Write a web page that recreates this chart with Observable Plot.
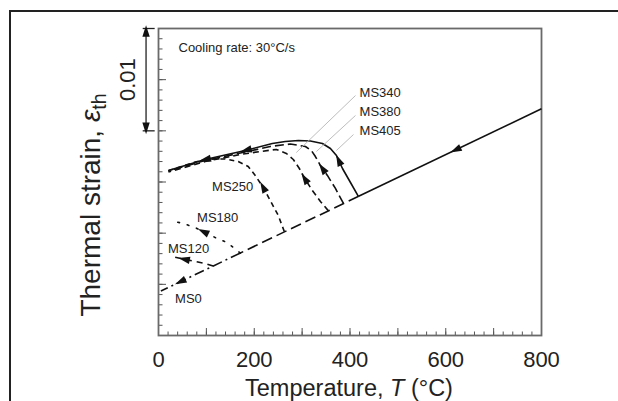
<!DOCTYPE html>
<html><head><meta charset="utf-8">
<script src="https://cdn.jsdelivr.net/npm/d3@7"></script>
<script src="https://cdn.jsdelivr.net/npm/@observablehq/plot@0.6"></script>
<style>
html,body{margin:0;padding:0;background:#fff;}
#wrap{position:relative;width:618px;height:401px;overflow:hidden;}
#border{position:absolute;left:9px;top:10px;width:620px;height:400px;border-top:2px solid #222;border-left:2px solid #222;pointer-events:none;}
</style></head><body><div id="wrap"><div id="chart"></div><div id="border"></div></div>
<script>
// ---- data (temperature in °C, thermal strain in units of 0.001) ----
const xTickLabels = [0, 200, 400, 600, 800];
const lineT = [800, 418], lineS = [22.15, 13.6];           // austenite cooling line (solid part)
const lineLowT = [418, 170], lineLowS = [13.6, 8.04];      // shared dashed part
const ms0T = [170, 5], ms0S = [8.04, 4.34];                // MS0 (dash-dot)
const ms405T = [417.8, 401, 384.3, 371.7, 359.1, 342.4, 317.2, 292.1, 264.9, 237.7, 181.1, 97.4, 20.7];
const ms405S = [13.58, 14.95, 16.32, 17.59, 18.27, 18.76, 19.01, 19.06, 18.96, 18.76, 18.08, 17.20, 16.12];
const ms380T = [386.3, 369.6, 352.8, 338.2, 327.7, 319.3, 306.8, 275.3, 233.4, 181.1, 97.4, 20.7];
const ms380S = [12.90, 14.37, 15.64, 16.61, 17.49, 18.08, 18.47, 18.71, 18.47, 17.93, 17.10, 16.08];
const ms340T = [355, 338.2, 321.4, 306.8, 294.2, 281.6, 267, 246, 212.5, 170.6, 97.4, 20.7];
const ms340S = [12.18, 13.10, 14.17, 15.24, 16.32, 17.20, 17.79, 18.18, 17.98, 17.69, 17.00, 15.98];
const ms250T = [262.8, 250.2, 233.4, 218.8, 202.1, 187.4, 166.5, 139.3, 112, 76.4, 20.7];
const ms250S = [10.16, 11.73, 13.19, 14.46, 15.64, 16.52, 17.0, 17.25, 17.25, 16.96, 16.1];
const ms180T = [170.7, 143.4, 118.3, 97.4, 76.4, 51.3, 28.3];
const ms180S = [8.05, 9.09, 9.58, 10.07, 10.55, 10.95, 11.19];
const ms120T = [114.1, 97.4, 76.4, 55.5, 28.3];
const ms120S = [6.79, 7.04, 7.23, 7.43, 7.72];

const labelNames = ["MS340", "MS380", "MS405", "MS250", "MS180", "MS120", "MS0"];
const labelT = [420, 420, 420, 112, 80.6, 19.9, 34.6];
const labelS = [23.75, 21.89, 20.03, 14.56, 11.53, 8.50, 3.62];
const leaderT1 = [411.5, 411.5, 407.3], leaderS1 = [23.45, 21.50, 19.64];
const leaderT2 = [287.9, 329.8, 371.7], leaderS2 = [17.88, 17.98, 18.08];

const arrowSeries = ["line", "MS405", "MS405", "MS405", "MS380", "MS340", "MS250", "MS180", "MS120", "MS0"];
const arrowAt = [0.46, 2.5, 9.9, 10.95, 2.55, 2.95, 2.9, 3.0, 2.9, 0.73];

const scaleBarT = -26, scaleBarS = [20, 30], scaleBarLabel = "0.01";
const note = "Cooling rate: 30°C/s";

// ---- layout / styles ----
const W = 618, H = 401, mL = 158, mR = 77, mT = 28, mB = 66;
const kx = (W - mL - mR) / 800, ky = (H - mT - mB) / 0.03;
const series = {
  line: [lineT, lineS], lineLow: [lineLowT, lineLowS], MS0: [ms0T, ms0S],
  MS405: [ms405T, ms405S], MS380: [ms380T, ms380S], MS340: [ms340T, ms340S],
  MS250: [ms250T, ms250S], MS180: [ms180T, ms180S], MS120: [ms120T, ms120S]
};
const dash = {
  line: null, MS405: null, lineLow: "11,5", MS0: "10,4,2,4", MS380: "9,4",
  MS340: "6,4", MS250: "5,4", MS180: "1.8,8", MS120: "6,5"
};
const rows = name => series[name][0].map((t, i) => ({T: t, S: series[name][1][i] / 1000}));

const arrows = arrowSeries.map((name, j) => {
  const [T, S] = series[name];
  const f = arrowAt[j], i = Math.min(Math.floor(f), T.length - 2), u = f - i;
  const dT = T[i + 1] - T[i], dS = S[i + 1] - S[i];
  return {T: T[i] + dT * u, S: (S[i] + dS * u) / 1000,
          angle: Math.atan2(dT * kx, dS / 1000 * ky) * 180 / Math.PI};
});
const sb = [
  {T: scaleBarT, S: (scaleBarS[1] - 0.45) / 1000, angle: 0},
  {T: scaleBarT, S: (scaleBarS[0] + 0.45) / 1000, angle: 180}
];
const head = {draw(ctx, size) {
  const r = Math.sqrt(size);
  ctx.moveTo(0, -r * 1.4); ctx.lineTo(r * 0.65, r * 0.65); ctx.lineTo(-r * 0.65, r * 0.65); ctx.closePath();
}};

const xMinor = d3.range(0, 801, 20), xMajor = d3.range(0, 801, 100);
const yMinor = d3.range(0, 0.03001, 0.001), yMajor = d3.range(0, 0.03001, 0.005);
const pw = W - mL - mR, ph = H - mT - mB;
const lineMarks = Object.keys(dash).map(name => Plot.line(rows(name), {
  x: "T", y: "S", stroke: "#111", strokeWidth: 1.6,
  strokeDasharray: dash[name] || undefined, strokeLinecap: name === "MS180" ? "round" : "butt"
}));
const font = "Liberation Sans, Arial, sans-serif";

const plot = Plot.plot({
  width: W, height: H, marginLeft: mL, marginRight: mR, marginTop: mT, marginBottom: mB,
  x: {domain: [0, 800], axis: null},
  y: {domain: [0, 0.03], axis: null},
  style: {fontFamily: font, color: "#222", background: "white", overflow: "visible"},
  marks: [
    Plot.tickX(xMinor, {x: d => d, insetTop: ph - 3.5, stroke: "#555", strokeWidth: 1}),
    Plot.tickX(xMajor, {x: d => d, insetTop: ph - 7, stroke: "#555", strokeWidth: 1}),
    Plot.tickY(yMinor, {y: d => d, insetRight: pw - 4.5, stroke: "#555", strokeWidth: 1}),
    Plot.tickY(yMajor, {y: d => d, insetRight: pw - 8, stroke: "#555", strokeWidth: 1}),
    Plot.frame({stroke: "#6a6a6a", strokeWidth: 1.8}),
    Plot.axisX(xTickLabels, {tickSize: 0, tickPadding: 16, fontSize: 22, label: null, fill: "#222"}),
    ...lineMarks,
    Plot.dot(arrows, {x: "T", y: "S", symbol: head, r: 3.2, fill: "#111", stroke: "none", rotate: "angle"}),
    Plot.link(labelNames.slice(0, 3), {
      x1: (d, i) => leaderT1[i], y1: (d, i) => leaderS1[i] / 1000,
      x2: (d, i) => leaderT2[i], y2: (d, i) => leaderS2[i] / 1000,
      stroke: "#b5b5b5", strokeWidth: 0.9
    }),
    Plot.text(labelNames, {x: (d, i) => labelT[i], y: (d, i) => labelS[i] / 1000, text: d => d,
      textAnchor: "start", lineAnchor: "middle", fontSize: 13, fill: "#222"}),
    Plot.text([note], {frameAnchor: "top-left", dx: 20, dy: 19, text: d => d, textAnchor: "start",
      lineAnchor: "middle", fontSize: 13, fill: "#222"}),
    // scale bar
    Plot.link([scaleBarLabel], {x1: scaleBarT, x2: scaleBarT, y1: scaleBarS[0] / 1000, y2: scaleBarS[1] / 1000,
      stroke: "#222", strokeWidth: 1.3}),
    Plot.link(scaleBarS, {x1: scaleBarT - 7, x2: scaleBarT + 18, y1: d => d / 1000, y2: d => d / 1000,
      stroke: "#222", strokeWidth: 1.3}),
    Plot.dot(sb, {x: "T", y: "S", symbol: head, r: 3.2, fill: "#111", stroke: "none", rotate: "angle"}),
    Plot.text([scaleBarLabel], {x: scaleBarT - 37, y: (scaleBarS[0] + scaleBarS[1]) / 2000, text: d => d,
      rotate: -90, fontSize: 22, fill: "#222", lineAnchor: "middle"})
  ]
});
document.getElementById("chart").appendChild(plot);

// axis titles with italic / subscript parts
const svg = d3.select(plot);
const xl = svg.append("text").attr("x", 349).attr("y", 396).attr("text-anchor", "middle")
  .attr("font-size", 23.5).attr("fill", "#222");
xl.append("tspan").text("Temperature, ");
xl.append("tspan").attr("font-style", "italic").text("T");
xl.append("tspan").text(" (°C)");
const yl = svg.append("text").attr("transform", "translate(100,205) rotate(-90)").attr("text-anchor", "middle")
  .attr("font-size", 28).attr("fill", "#222");
yl.append("tspan").text("Thermal strain, ");
yl.append("tspan").attr("font-style", "italic").text("ε");
yl.append("tspan").attr("font-size", "0.7em").attr("dy", "0.3em").text("th");
</script></body></html>
